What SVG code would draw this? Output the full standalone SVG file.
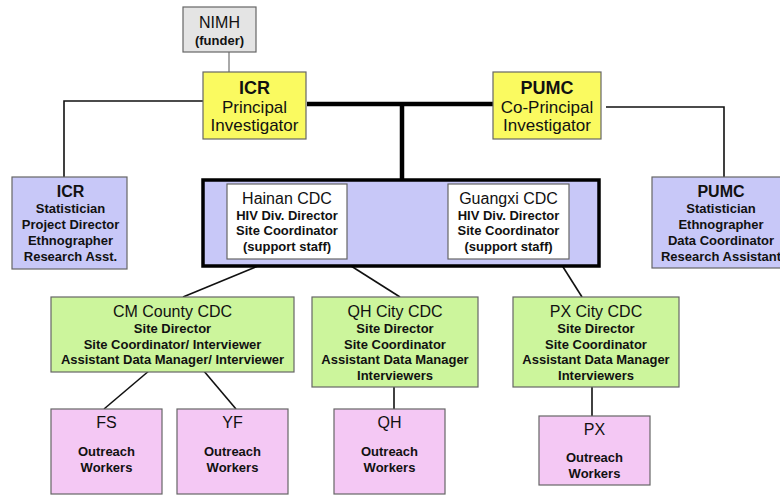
<svg xmlns="http://www.w3.org/2000/svg" width="780" height="496" viewBox="0 0 780 496">
<style>
text{font-family:"Liberation Sans",Arial,sans-serif;fill:#111;text-anchor:middle}
.t{font-size:16px}
.b{font-size:13px;font-weight:bold}
.p{font-size:17px}
.box{stroke:#666;stroke-width:1.2}
.gray{fill:#e4e4e4}
.yel{fill:#fafa60}
.pur{fill:#c8c8f8}
.grn{fill:#ccf59c}
.pnk{fill:#f4c8f4}
.ln{stroke:#111;stroke-width:1.6;fill:none}
.thk{stroke:#000;stroke-width:4.5;fill:none}
</style>
<rect width="780" height="496" fill="#fff"/>
<g id="connectors">
<line class="ln" x1="229" y1="52" x2="229" y2="72" style="stroke:#555;stroke-width:1"/>
<line class="thk" x1="307" y1="104" x2="494" y2="104"/>
<line class="thk" x1="402" y1="104" x2="402" y2="180"/>
<polyline class="ln" points="203,101 64,101 64,177"/>
<polyline class="ln" points="606,107 724,107 724,177"/>
<line class="thk" x1="355" y1="219" x2="433" y2="219" style="stroke-width:5"/>
<line class="ln" x1="275" y1="259" x2="183" y2="297"/>
<line class="ln" x1="340" y1="259" x2="400" y2="297"/>
<line class="ln" x1="558" y1="259" x2="582" y2="297"/>
<line class="ln" x1="150" y1="370" x2="104" y2="409"/>
<line class="ln" x1="203" y1="370" x2="236" y2="409"/>
<line class="ln" x1="394" y1="387" x2="394" y2="409"/>
<line class="ln" x1="592" y1="387" x2="592" y2="416"/>
</g>
<g id="nimh">
<rect class="box gray" x="183" y="7" width="73" height="45"/>
<text class="t" x="219.5" y="28">NIMH</text>
<text class="b" x="219.5" y="45">(funder)</text>
</g>
<g id="icr-pi">
<rect class="box yel" x="203" y="72" width="103" height="67"/>
<text x="254.5" y="94" style="font-size:18px;font-weight:bold">ICR</text>
<text class="p" x="254.5" y="113">Principal</text>
<text class="p" x="254.5" y="131">Investigator</text>
</g>
<g id="pumc-pi">
<rect class="box yel" x="493" y="72" width="108" height="67"/>
<text x="547" y="94" style="font-size:18px;font-weight:bold">PUMC</text>
<text class="p" x="547" y="113">Co-Principal</text>
<text class="p" x="547" y="131">Investigator</text>
</g>
<g id="icr-staff">
<rect class="box pur" x="12" y="177" width="115" height="92"/>
<text class="t" x="70.5" y="197" style="font-weight:bold">ICR</text>
<text class="b" x="70.5" y="213">Statistician</text>
<text class="b" x="70.5" y="229">Project Director</text>
<text class="b" x="70.5" y="245">Ethnographer</text>
<text class="b" x="70.5" y="261">Research Asst.</text>
</g>
<g id="pumc-staff">
<rect class="box pur" x="652" y="177" width="140" height="91"/>
<text class="t" x="721" y="197" style="font-weight:bold">PUMC</text>
<text class="b" x="721" y="213">Statistician</text>
<text class="b" x="721" y="229">Ethnographer</text>
<text class="b" x="721" y="245">Data Coordinator</text>
<text class="b" x="721" y="261">Research Assistant</text>
</g>
<g id="provincial">
<rect x="203" y="180" width="396" height="86" fill="#c8c8f8" stroke="#000" stroke-width="3.5"/>
</g>
<g id="hainan">
<rect class="box" x="227" y="184" width="120" height="75" fill="#fff"/>
<text class="t" x="287" y="204">Hainan CDC</text>
<text class="b" x="287" y="220">HIV Div. Director</text>
<text class="b" x="287" y="235">Site Coordinator</text>
<text class="b" x="287" y="251">(support staff)</text>
</g>
<g id="guangxi">
<rect class="box" x="448" y="184" width="121" height="75" fill="#fff"/>
<text class="t" x="508.5" y="204">Guangxi CDC</text>
<text class="b" x="508.5" y="220">HIV Div. Director</text>
<text class="b" x="508.5" y="235">Site Coordinator</text>
<text class="b" x="508.5" y="251">(support staff)</text>
</g>
<g id="cm">
<rect class="box grn" x="51" y="297" width="243" height="75"/>
<text class="t" x="172.5" y="317">CM County CDC</text>
<text class="b" x="172.5" y="333">Site Director</text>
<text class="b" x="172.5" y="349">Site Coordinator/ Interviewer</text>
<text class="b" x="172.5" y="364">Assistant Data Manager/ Interviewer</text>
</g>
<g id="qh-city">
<rect class="box grn" x="312" y="297" width="166" height="90"/>
<text class="t" x="395" y="317">QH City CDC</text>
<text class="b" x="395" y="333">Site Director</text>
<text class="b" x="395" y="349">Site Coordinator</text>
<text class="b" x="395" y="364">Assistant Data Manager</text>
<text class="b" x="395" y="380">Interviewers</text>
</g>
<g id="px-city">
<rect class="box grn" x="513" y="297" width="166" height="90"/>
<text class="t" x="596" y="317">PX City CDC</text>
<text class="b" x="596" y="333">Site Director</text>
<text class="b" x="596" y="349">Site Coordinator</text>
<text class="b" x="596" y="364">Assistant Data Manager</text>
<text class="b" x="596" y="380">Interviewers</text>
</g>
<g id="fs">
<rect class="box pnk" x="51" y="409" width="111" height="85"/>
<text class="t" x="106.5" y="428">FS</text>
<text class="b" x="106.5" y="456">Outreach</text>
<text class="b" x="106.5" y="472">Workers</text>
</g>
<g id="yf">
<rect class="box pnk" x="177" y="409" width="111" height="85"/>
<text class="t" x="232.5" y="428">YF</text>
<text class="b" x="232.5" y="456">Outreach</text>
<text class="b" x="232.5" y="472">Workers</text>
</g>
<g id="qh">
<rect class="box pnk" x="334" y="409" width="111" height="85"/>
<text class="t" x="389.5" y="428">QH</text>
<text class="b" x="389.5" y="456">Outreach</text>
<text class="b" x="389.5" y="472">Workers</text>
</g>
<g id="px">
<rect class="box pnk" x="539" y="416" width="111" height="69"/>
<text class="t" x="594.5" y="435">PX</text>
<text class="b" x="594.5" y="462">Outreach</text>
<text class="b" x="594.5" y="478">Workers</text>
</g>
</svg>
